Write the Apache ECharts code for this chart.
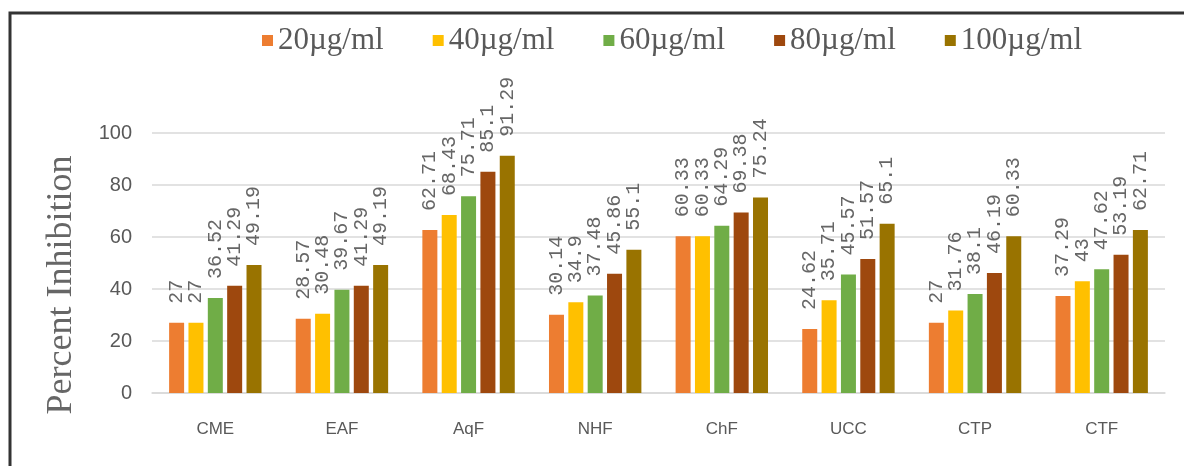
<!DOCTYPE html>
<html>
<head>
<meta charset="utf-8">
<script src="https://cdn.jsdelivr.net/npm/echarts@6/dist/echarts.min.js"></script>
<style>
  html, body { margin: 0; padding: 0; background: #fff; }
  #chart { width: 1184px; height: 466px; }
</style>
</head>
<body>
<div id="chart"></div>
<script>
// Extract fractions
const categories = ['CME', 'EAF', 'AqF', 'NHF', 'ChF', 'UCC', 'CTP', 'CTF'];

// Percent inhibition at each concentration
const conc20  = [27, 28.57, 62.71, 30.14, 60.33, 24.62, 27, 37.29];
const conc40  = [27, 30.48, 68.43, 34.9, 60.33, 35.71, 31.76, 43];
const conc60  = [36.52, 39.67, 75.71, 37.48, 64.29, 45.57, 38.1, 47.62];
const conc80  = [41.29, 41.29, 85.1, 45.86, 69.38, 51.57, 46.19, 53.19];
const conc100 = [49.19, 49.19, 91.29, 55.1, 75.24, 65.1, 60.33, 62.71];

const seriesNames = ['20µg/ml', '40µg/ml', '60µg/ml', '80µg/ml', '100µg/ml'];
const seriesData = [conc20, conc40, conc60, conc80, conc100];
const colors = ['#ED7D31', '#FFC000', '#70AD47', '#9E480E', '#997300'];

const yTicks = { min: 0, max: 100, interval: 20 };

const chart = echarts.init(document.getElementById('chart'), null, { renderer: 'canvas' });

const series = seriesNames.map((name, i) => ({
  name: name,
  type: 'bar',
  data: seriesData[i],
  barWidth: 15,
  barGap: '29%',
  itemStyle: { color: colors[i] },
  label: {
    show: true,
    position: 'top',
    distance: 19,
    rotate: 90,
    align: 'left',
    verticalAlign: 'middle',
    fontFamily: '"Liberation Mono", monospace',
    fontSize: 20,
    color: '#666666'
  }
}));

chart.setOption({
  animation: false,
  color: colors,
  legend: {
    data: seriesNames,
    top: 20,
    left: 257,
    itemWidth: 11,
    itemHeight: 11,
    itemGap: 49,
    icon: 'rect',
    textStyle: {
      fontFamily: '"Liberation Serif", serif',
      fontSize: 31,
      color: '#595959'
    }
  },
  grid: { left: 152, right: 19, top: 133, bottom: 73, containLabel: false },
  xAxis: {
    type: 'category',
    data: categories,
    axisTick: { show: false },
    axisLine: { lineStyle: { color: '#d9d9d9', width: 1.5 } },
    axisLabel: {
      margin: 28,
      fontFamily: '"Liberation Sans", sans-serif',
      fontSize: 17,
      color: '#595959'
    }
  },
  yAxis: {
    type: 'value',
    min: yTicks.min,
    max: yTicks.max,
    interval: yTicks.interval,
    name: 'Percent Inhibition',
    nameLocation: 'middle',
    nameGap: 72,
    nameRotate: 90,
    nameTextStyle: {
      fontFamily: '"Liberation Serif", serif',
      fontSize: 36,
      color: '#666666',
      padding: [0, 44, 0, 0]
    },
    axisLine: { show: false },
    axisTick: { show: false },
    splitLine: { lineStyle: { color: '#d9d9d9', width: 1.5 } },
    axisLabel: {
      margin: 20,
      fontFamily: '"Liberation Sans", sans-serif',
      fontSize: 20,
      color: '#595959'
    }
  },
  graphic: [{
    type: 'polyline',
    shape: { points: [[10, 466], [10, 13], [1184, 13]] },
    style: { stroke: '#333', lineWidth: 3, fill: null }
  }],
  series: series
});
</script>
</body>
</html>
